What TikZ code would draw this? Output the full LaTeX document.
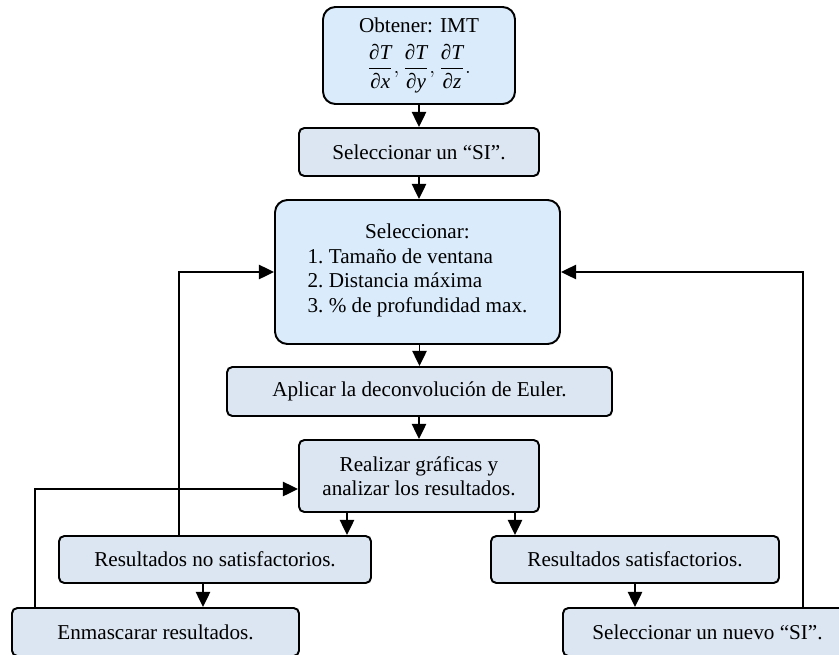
\documentclass[tikz,border=0pt]{standalone}
\usepackage{amsmath}
\usepackage{fontspec}
\setmainfont{Liberation Serif}
\usetikzlibrary{arrows.meta,calc}
\definecolor{cielo}{HTML}{DAEBFB}
\definecolor{grisazul}{HTML}{DCE6F2}
\newcommand{\px}{0.5625pt}
\newcommand{\derT}[1]{\dfrac{\textit{∂T}}{\textit{∂#1}}}
\begin{document}
\begin{tikzpicture}[x = \px, y = -\px, line width = 1.1pt,
    caja/.style = {draw, fill = grisazul, rounded corners = 3pt, inner sep = 0pt, align = center, font = \fontsize{11.9}{13.8}\selectfont},
    cajaclara/.style = {caja, fill = cielo, rounded corners = 7pt},
    flecha/.style = {-{Triangle[width = 8pt, length = 8.5pt]}}]
\useasboundingbox (0, 0) rectangle (839, 654);
\clip (0, 0) rectangle (839, 654);
\node[cajaclara, minimum width = 192*\px, minimum height = 97*\px] (obtener) at (419, 55.5) {Obtener: IMT\\[5pt] $\derT{x},\derT{y},\derT{z}.$};
\node[caja, minimum width = 240*\px, minimum height = 48*\px] (si) at (419, 152) {Seleccionar un “SI”.};
\node[cajaclara, minimum width = 285*\px, minimum height = 144*\px] (param) at (417.5, 272) {Seleccionar:\\ \begin{tabular}[t]{@{}l@{}}1.\ Tamaño de ventana\\ 2.\ Distancia máxima\\ 3.\ \% de profundidad max.\end{tabular}};
\node[caja, minimum width = 385*\px, minimum height = 49*\px] (euler) at (419.5, 391.5) {Aplicar la deconvolución de Euler.};
\node[caja, minimum width = 240*\px, minimum height = 72*\px] (graf) at (419, 476) {Realizar gráficas y\\ analizar los resultados.};
\node[caja, minimum width = 312*\px, minimum height = 47*\px] (nosat) at (215, 559.5) {Resultados no satisfactorios.};
\node[caja, minimum width = 288*\px, minimum height = 47*\px] (sat) at (635, 559.5) {Resultados satisfactorios.};
\node[caja, minimum width = 287*\px, minimum height = 48*\px] (mascara) at (155.5, 632) {Enmascarar resultados.};
\node[caja, minimum width = 289*\px, minimum height = 48*\px] (nuevo) at (707.5, 632) {Seleccionar un nuevo “SI”.};
\draw[flecha] (obtener.south) -- (si.north);
\draw[flecha] (si.south) -- (si.south |- param.north);
\draw[flecha] (param.south -| euler.north) -- (euler.north);
\draw[flecha] (euler.south -| graf.north) -- (graf.north);
\coordinate (gizq) at ($(graf.south) + (-72, 0)$);
\coordinate (gder) at ($(graf.south) + (96, 0)$);
\coordinate (nabajo) at ($(nosat.south) + (-12, 0)$);
\draw[flecha] (gizq) -- (gizq |- nosat.north);
\draw[flecha] (gder) -- (gder |- sat.north);
\draw[flecha] (nabajo) -- (nabajo |- mascara.north);
\draw[flecha] (sat.south) -- (sat.south |- nuevo.north);
\draw[flecha] ($(nosat.north) + (-36, 0)$) |- (param.west);
\draw[flecha] ($(mascara.north) + (-120.5, 0)$) |- ($(graf.west) + (0, 13)$);
\draw[flecha] ($(nuevo.north) + (95.5, 0)$) |- (param.east);
\end{tikzpicture}
\end{document}
